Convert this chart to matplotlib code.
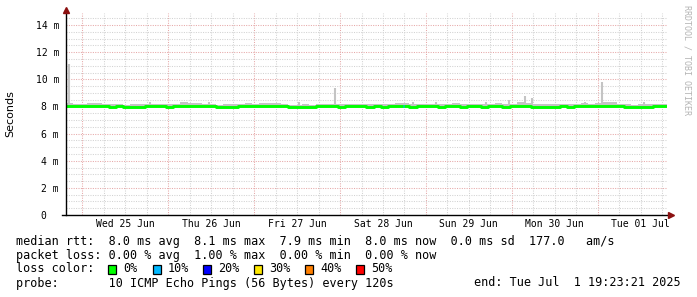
import numpy as np
import pandas as pd
import matplotlib
matplotlib.use("Agg")
import matplotlib.pyplot as plt
import matplotlib.dates as mdates
from matplotlib.patches import Rectangle

W, H = 697, 297
MONO = "DejaVu Sans Mono"

START = pd.Timestamp("2025-06-24 19:23:21")
END = pd.Timestamp("2025-07-01 19:23:21")
STEP = "2h"

# median rtt in ms, one value per 2 hours from START
median_ms = [
    8.03, 8.02, 8.00,
    8.02, 8.03, 8.00, 7.98, 8.00, 7.97, 7.96, 7.97, 8.00, 8.02, 8.00, 7.98,
    8.00, 8.02, 8.03, 8.05, 8.02, 8.00, 7.96, 7.95, 7.98, 8.00, 8.02, 8.03,
    8.05, 8.04, 8.03, 8.00, 7.95, 7.94, 7.96, 7.97, 8.00, 8.01, 8.00, 7.98,
    8.00, 8.02, 8.00, 7.98, 8.00, 7.97, 8.00, 8.02, 8.00, 7.98, 8.00, 8.01,
    8.00, 7.98, 8.00, 8.02, 7.98, 8.00, 8.01, 7.98, 8.00, 8.02, 7.99, 8.00,
    8.02, 8.00, 7.97, 7.95, 7.96, 7.98, 8.00, 7.98, 8.00, 8.02, 8.01, 8.03,
    8.04, 8.03, 8.00, 7.96, 7.95, 7.97, 7.98, 8.00, 8.00,
]

# upper edge of the smoke (slowest of the 10 pings), same steps
smoke_hi_ms = [
    8.25, 8.20, 8.17,
    8.27, 8.23, 8.17, 8.20, 8.15, 8.13, 8.17, 8.15, 8.17, 8.21, 8.17, 8.15,
    8.19, 8.29, 8.27, 8.25, 8.20, 8.17, 8.13, 8.15, 8.17, 8.20, 8.23, 8.21,
    8.27, 8.25, 8.23, 8.17, 8.13, 8.11, 8.15, 8.13, 8.17, 8.19, 8.17, 8.15,
    8.17, 8.20, 8.17, 8.15, 8.19, 8.17, 8.19, 8.25, 8.27, 8.17, 8.19, 8.20,
    8.17, 8.17, 8.20, 8.23, 8.17, 8.19, 8.20, 8.17, 8.21, 8.23, 8.19, 8.20,
    8.29, 8.27, 8.17, 8.15, 8.15, 8.17, 8.19, 8.17, 8.20, 8.23, 8.21, 8.25,
    8.30, 8.29, 8.20, 8.15, 8.13, 8.17, 8.19, 8.20, 8.19,
]

# single slow pings sticking out of the smoke
spike_times = [
    "2025-06-24 20:13", "2025-06-25 18:47", "2025-06-26 11:30", "2025-06-27 12:35",
    "2025-06-27 22:35", "2025-06-28 20:20", "2025-06-29 02:45", "2025-06-29 16:40",
    "2025-06-29 23:05", "2025-06-30 03:35", "2025-06-30 05:45", "2025-06-30 20:35",
    "2025-07-01 01:17", "2025-07-01 03:29", "2025-07-01 12:59",
]
spike_ms = [11.1, 8.3, 8.35, 8.35, 9.35, 8.35, 8.3, 8.3, 8.5, 8.75, 8.6, 8.3, 9.8, 8.35, 8.3]

# the one loss event (10 %)
loss_time = "2025-06-28 17:35"
loss_ms = 8.0

y_ticks = [0, 2, 4, 6, 8, 10, 12, 14]
loss_labels = ["0%", "10%", "20%", "30%", "40%", "50%"]
loss_colors = ["#00ff00", "#00b8ff", "#0000ff", "#ffe800", "#ff7f00", "#ff0000"]

legend_lines = [
    "median rtt:  8.0 ms avg  8.1 ms max  7.9 ms min  8.0 ms now  0.0 ms sd  177.0   am/s",
    "packet loss: 0.00 % avg  1.00 % max  0.00 % min  0.00 % now",
    "loss color:",
    "probe:       10 ICMP Echo Pings (56 Bytes) every 120s",
]
end_label = "end: Tue Jul  1 19:23:21 2025"

GRID_MINOR = "#d2d2d2"
GRID_MAJOR = "#e6a8a8"
SMOKE = "#c4c4c4"
ARROW = "#8b1010"


def px(x, y):
    return x / W, 1 - y / H


def main() -> None:
    fig = plt.figure(figsize=(W / 100, H / 100), dpi=100)
    left, right, top, bottom = 66, 667, 13, 215
    ax = fig.add_axes([left / W, 1 - bottom / H, (right - left) / W, (bottom - top) / H])

    x0, x1 = mdates.date2num(START), mdates.date2num(END)
    ymax = (bottom - top) / ((bottom - 25) / 14)
    ax.set_xlim(x0, x1)
    ax.set_ylim(0, ymax)

    # grid
    dot = (0, (1, 1.3))
    for t in pd.date_range("2025-06-24 00:00", END, freq="6h"):
        xv = mdates.date2num(t)
        if xv <= x0:
            continue
        major = t.hour == 0
        ax.axvline(xv, color=GRID_MAJOR if major else GRID_MINOR, lw=0.75, ls=dot, zorder=0)
    for v in np.arange(0.5, ymax, 0.5):
        major = abs(v % 2) < 1e-9
        ax.axhline(v, color=GRID_MAJOR if major else GRID_MINOR, lw=0.75, ls=dot, zorder=0)

    edges = mdates.date2num(pd.date_range(START, periods=len(median_ms) + 1, freq=STEP))
    med = np.array(median_ms)
    hi = np.array(smoke_hi_ms)
    med_e = np.append(med, med[-1])
    hi_e = np.append(hi, hi[-1])

    ax.fill_between(edges, med_e, hi_e, step="post", color=SMOKE, lw=0, zorder=2)
    st = mdates.date2num(pd.to_datetime(spike_times))
    ax.vlines(st, 8.0, spike_ms, color=SMOKE, lw=1.5, zorder=2)
    ax.step(edges, med_e, where="post", color="#00ff00", lw=2.1, zorder=3)

    lt = mdates.date2num(pd.Timestamp(loss_time))
    ax.plot([lt, lt + 0.01], [loss_ms, loss_ms], color=loss_colors[1], lw=2.1,
            solid_capstyle="butt", zorder=4)

    # axes look
    for s in ax.spines.values():
        s.set_visible(False)
    ax.plot([0, 0], [0, 1.0], transform=ax.transAxes, color="black", lw=1, clip_on=False, zorder=5)
    ax.plot([-0.006, 1.003], [0, 0], transform=ax.transAxes, color="black", lw=1, clip_on=False, zorder=5)
    ax.plot([0], [1.013], transform=ax.transAxes, marker="^", ms=4.5, color=ARROW, clip_on=False, zorder=6)
    ax.plot([1.007], [0], transform=ax.transAxes, marker=">", ms=4.5, color=ARROW, clip_on=False, zorder=6)

    ax.set_yticks(y_ticks)
    ax.set_yticklabels([("%d m" % v) if v else "0  " for v in y_ticks], family=MONO, fontsize=7)
    noons = pd.date_range("2025-06-25 12:00", "2025-07-01 12:00", freq="D")
    ax.set_xticks(mdates.date2num(noons))
    ax.set_xticklabels([t.strftime("%a %d %b") for t in noons], family=MONO, fontsize=7)
    ax.tick_params(axis="both", length=0)
    ax.tick_params(axis="y", pad=5)
    ax.tick_params(axis="x", pad=3)

    fig.text(*px(10, 114), "Seconds", rotation=90, ha="center", va="center", fontsize=8)
    fig.text(*px(687, 60), "RRDTOOL / TOBI OETIKER", rotation=270, ha="center", va="center",
             family=MONO, fontsize=6, color="#b4b4b4")

    # legend block
    for i, line in enumerate(legend_lines):
        fig.text(*px(16, 241 + 14 * i), line, family=MONO, fontsize=8.5, ha="left", va="center")
    fig.text(*px(681, 283), end_label, family=MONO, fontsize=8.5, ha="right", va="center")

    box_x = [108, 153, 203, 254, 305, 356]
    for bx, lab, col in zip(box_x, loss_labels, loss_colors):
        fig.patches.append(Rectangle(px(bx, 273.5), 8 / W, 9 / H, transform=fig.transFigure,
                                     facecolor=col, edgecolor="black", lw=0.9))
        fig.text(*px(bx + 15, 269), lab, family=MONO, fontsize=8.5, ha="left", va="center")

    fig.savefig("out.png", dpi=100, facecolor="white")


if __name__ == "__main__":
    main()
